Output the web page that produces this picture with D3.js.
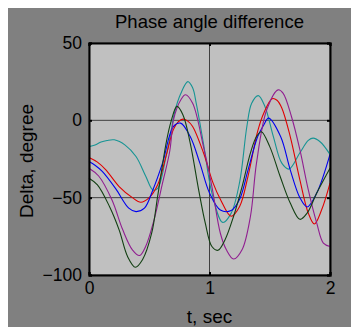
<!DOCTYPE html>
<html>
<head>
<meta charset="utf-8">
<script src="https://cdn.jsdelivr.net/npm/d3@7"></script>
<style>
  body { margin: 0; background: #ffffff; }
  svg { display: block; }
  text { font-family: "Liberation Sans", Arial, sans-serif; fill: #000; }
</style>
</head>
<body>
<div id="chart"></div>
<script>
// Series, [t (sec), delta (degree)]
var tealData = [[0,-17],[0.05,-16],[0.1,-14],[0.15,-13],[0.21,-12.6],[0.3,-16],[0.39,-23.4],[0.47,-36],[0.53,-45],[0.57,-44],
  [0.64,-23],[0.67,-12],[0.71,5],[0.76,17],[0.82,25],[0.86,21],[0.89,11],[0.95,-15],[1.02,-47],[1.11,-66],[1.18,-60],
  [1.25,-40],[1.31,-4],[1.35,11],[1.405,16],[1.46,9],[1.53,-10.5],[1.6,-27.7],[1.66,-31.5],[1.75,-21],[1.82,-13],
  [1.86,-11.5],[1.92,-14],[2.0,-22]];
var redData = [[0,-24],[0.07,-27],[0.14,-32],[0.25,-42.8],[0.36,-50],[0.43,-53],[0.5,-50],[0.57,-41.7],[0.64,-23],[0.7,-6],
  [0.74,-1],[0.78,0.8],[0.82,-0.5],[0.86,-4],[0.95,-21],[1.03,-40.6],[1.09,-51],[1.18,-62],[1.25,-55.7],[1.32,-36],
  [1.4,-7],[1.45,4.6],[1.52,14],[1.56,13],[1.6,8],[1.67,-10.5],[1.75,-38.5],[1.82,-60],[1.87,-67],[1.93,-58],[2.0,-40.6]];
var blueData = [[0,-26.6],[0.05,-29],[0.11,-33],[0.22,-44],[0.33,-56.8],[0.39,-59],[0.46,-56.8],[0.53,-45],[0.61,-27.7],
  [0.7,-4],[0.76,-1.8],[0.84,-10.5],[0.92,-27.7],[1.0,-47],[1.09,-58],[1.18,-58.3],[1.25,-51],[1.32,-32],[1.4,-10.5],
  [1.45,-3],[1.49,1.4],[1.59,-10.5],[1.67,-32],[1.75,-50],[1.81,-56],[1.89,-47],[2.0,-22]];
var purpleData = [[0,-31],[0.08,-36],[0.19,-51.4],[0.28,-70.8],[0.36,-83.7],[0.42,-87.4],[0.47,-81.6],[0.54,-64.3],
  [0.61,-40.6],[0.67,-20],[0.7,0],[0.73,8],[0.76,13],[0.8,16.5],[0.86,11],[0.95,-17],[1.02,-42.8],[1.09,-73],[1.14,-83.7],
  [1.2,-89.7],[1.27,-83.7],[1.34,-62],[1.39,-27.7],[1.475,6.8],[1.57,19.7],[1.61,17.6],[1.68,2.5],[1.75,-19],[1.82,-45],
  [1.89,-66.5],[1.945,-79.4],[2.0,-81.6]];
var greenData = [[0,-37.4],[0.07,-41.7],[0.17,-55.7],[0.25,-70.8],[0.32,-88],[0.385,-95],[0.445,-90],[0.52,-73],[0.57,-49],
  [0.64,-14.7],[0.68,-1],[0.73,9],[0.78,3.5],[0.84,-14.7],[0.91,-45],[0.965,-66.5],[1.02,-81.6],[1.07,-84],[1.13,-77],
  [1.2,-62],[1.27,-43],[1.34,-21],[1.39,-10.5],[1.43,-7.4],[1.5,-17],[1.585,-36],[1.67,-53.5],[1.75,-64],[1.81,-60],
  [1.89,-47],[2.0,-31]];

var xTicks = [0, 1, 2];
var yTicks = [-100, -50, 0, 50];

var series = [
  {data: tealData,   color: "#179494"},
  {data: redData,    color: "#e00000"},
  {data: blueData,   color: "#0000ee"},
  {data: purpleData, color: "#901e90"},
  {data: greenData,  color: "#123f12"}
];

//Layout
var W = 351, H = 327;
var margin = {top: 43, left: 89, right: 21, bottom: 52};
var width = W - margin.left - margin.right;
var height = H - margin.top - margin.bottom;

var svg = d3.select("#chart").append("svg")
    .attr("width", W)
    .attr("height", H);

// figure background (white strip at top/left)
svg.append("rect")
    .attr("x", 8).attr("y", 8)
    .attr("width", W - 8).attr("height", H - 8)
    .attr("fill", "#808080");

var x = d3.scaleLinear().domain([0, 2]).range([0, width]);
var y = d3.scaleLinear().domain([-100, 50]).range([height, 0]);

var g = svg.append("g")
    .attr("transform", "translate(" + margin.left + "," + margin.top + ")");

g.append("rect")
    .attr("width", width)
    .attr("height", height)
    .attr("fill", "#c0c0c0");

// grid lines
g.selectAll("line.gx").data(xTicks).enter().append("line")
    .attr("class", "gx")
    .attr("x1", function(d){ return x(d); }).attr("x2", function(d){ return x(d); })
    .attr("y1", 0).attr("y2", height)
    .attr("stroke", "#404040").attr("stroke-width", 1);
g.selectAll("line.gy").data(yTicks).enter().append("line")
    .attr("class", "gy")
    .attr("y1", function(d){ return y(d); }).attr("y2", function(d){ return y(d); })
    .attr("x1", 0).attr("x2", width)
    .attr("stroke", "#404040").attr("stroke-width", 1);

// curves
var line = d3.line()
    .x(function(d){ return x(d[0]); })
    .y(function(d){ return y(d[1]); })
    .curve(d3.curveCatmullRom);

g.selectAll("path.series").data(series).enter().append("path")
    .attr("class", "series")
    .attr("d", function(d){ return line(d.data); })
    .attr("fill", "none")
    .attr("stroke", function(d){ return d.color; })
    .attr("stroke-width", 1.1);

// axes
var xAxisB = d3.axisBottom(x).tickValues(xTicks).tickFormat(d3.format("d")).tickSize(-3).tickPadding(7);
var yAxisL = d3.axisLeft(y).tickValues(yTicks).tickFormat(d3.format("d")).tickSize(-3).tickPadding(7);
var xAxisT = d3.axisTop(x).tickValues(xTicks).tickSize(-3).tickFormat("");
var yAxisR = d3.axisRight(y).tickValues(yTicks).tickSize(-3).tickFormat("");

function styleAxis(sel){
  sel.selectAll("path.domain").attr("stroke", "#000").attr("stroke-width", 2);
  sel.selectAll("line").attr("stroke", "#000").attr("stroke-width", 2);
  sel.selectAll("text").style("font-size", "17.5px").attr("fill", "#000");
}

g.append("g").attr("transform", "translate(0," + height + ")").call(xAxisB).call(styleAxis);
g.append("g").call(yAxisL).call(styleAxis);
g.append("g").call(xAxisT).call(styleAxis);
g.append("g").attr("transform", "translate(" + width + ",0)").call(yAxisR).call(styleAxis);

// labels
svg.append("text")
    .attr("x", margin.left + width / 2)
    .attr("y", 28)
    .attr("text-anchor", "middle")
    .style("font-size", "18.5px")
    .text("Phase angle difference");

svg.append("text")
    .attr("x", margin.left + width / 2)
    .attr("y", 323)
    .attr("text-anchor", "middle")
    .style("font-size", "19px")
    .text("t, sec");

svg.append("text")
    .attr("transform", "translate(33," + (margin.top + height / 2 + 2) + ") rotate(-90)")
    .attr("text-anchor", "middle")
    .style("font-size", "19px")
    .text("Delta, degree");
</script>
</body>
</html>
